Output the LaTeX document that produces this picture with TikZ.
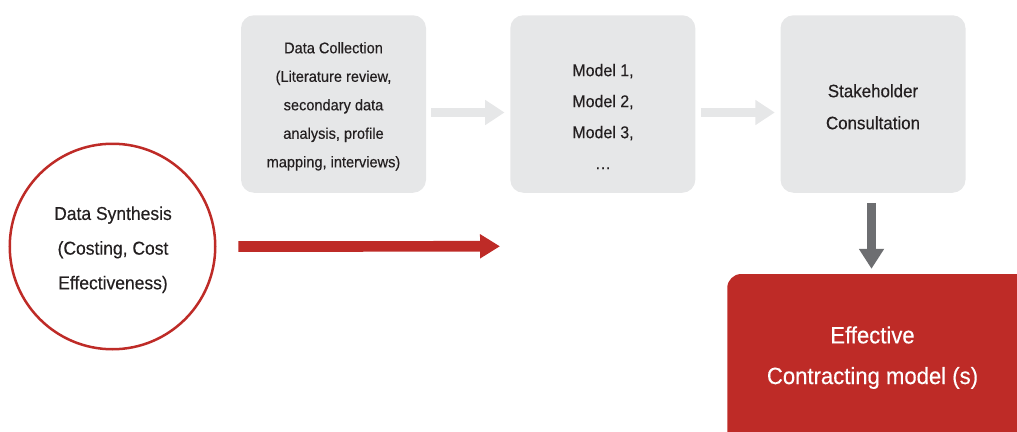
\documentclass[tikz,border=0pt]{standalone}
\usepackage{fontspec}
\setmainfont{Liberation Sans}[FakeStretch=0.94, FakeBold=0.35]
\usetikzlibrary{arrows.meta}
\definecolor{boxgray}{HTML}{E6E7E8}
\definecolor{arrowlight}{HTML}{E6E7E8}
\definecolor{darkarrow}{HTML}{6D6E71}
\definecolor{myred}{HTML}{BE2B27}
\definecolor{txt}{HTML}{231F20}
\begin{document}
\begin{tikzpicture}[x=1pt,y=-1pt,
  graybox/.style={fill=boxgray, draw=none, rounded corners=13pt, inner sep=0pt,
    minimum width=185pt, minimum height=177.5pt},
  redbox/.style={fill=myred, draw=none, rounded corners=14pt, inner sep=0pt},
  ring/.style={circle, draw=myred, line width=2.5pt, inner sep=0pt, minimum size=205.5pt},
  lbl/.style={text=txt, align=center, inner sep=0pt},
  lightarrow/.style={draw=arrowlight, line width=8.5pt,
    -{Triangle[length=19.5pt,width=24pt]}},
  darkarr/.style={draw=darkarrow, line width=9.5pt,
    -{Triangle[length=20pt,width=24pt]}},
  redarrow/.style={draw=myred, line width=10.7pt,
    -{Triangle[length=20pt,width=23pt]}}
]
\useasboundingbox (0,0) rectangle (1017,431);
\clip (0,0) rectangle (1017,431);

% boxes
\node[graybox] (dc) at (333.5,104) {};
\node[graybox] (mod) at (602.8,104) {};
\node[graybox] (sh) at (873,104) {};
\node[redbox, minimum width=312.7pt, minimum height=176pt] (red) at (883.6,362) {};
\node[ring] (ds) at (112.5,246.5) {};

% texts
\node[lbl, font={\fontsize{15.5pt}{28.5pt}\selectfont}] (dct) at (333.5,106.3)
  {Data Collection\\(Literature review,\\secondary data\\analysis, profile\\mapping, interviews)};
\node[lbl, font={\fontsize{17pt}{31pt}\selectfont}] (modt) at (603,116.5)
  {Model 1,\\Model 2,\\Model 3,\\…};
\node[lbl, font={\fontsize{18pt}{32pt}\selectfont}] (sht) at (873,106.8)
  {Stakeholder\\Consultation};
\node[lbl, font={\fontsize{18.6pt}{34.7pt}\selectfont}] (dst) at (113,249.8)
  {Data Synthesis\\(Costing, Cost\\Effectiveness)};
\node[lbl, text=white, font={\fontsize{23.5pt}{40.7pt}\selectfont}] (redt) at (872.5,357.6)
  {Effective\\Contracting model (s)};

% connectors
\draw[lightarrow, shorten <=5pt, shorten >=5.5pt]
  ([yshift=-8.5pt]dc.east) -- ([yshift=-8.5pt]mod.west);
\draw[lightarrow, shorten <=5pt, shorten >=5.5pt]
  ([yshift=-8.5pt]mod.east) -- ([yshift=-8.5pt]sh.west);
\draw[darkarr, shorten <=10pt, shorten >=5pt]
  ([xshift=-1.5pt]sh.south) -- ([xshift=-1.5pt]sh.south |- red.north);
\coordinate (rend) at (500,246.3);
\draw[redarrow, shorten <=21.8pt] (ds.east) -- (rend);
\end{tikzpicture}
\end{document}
